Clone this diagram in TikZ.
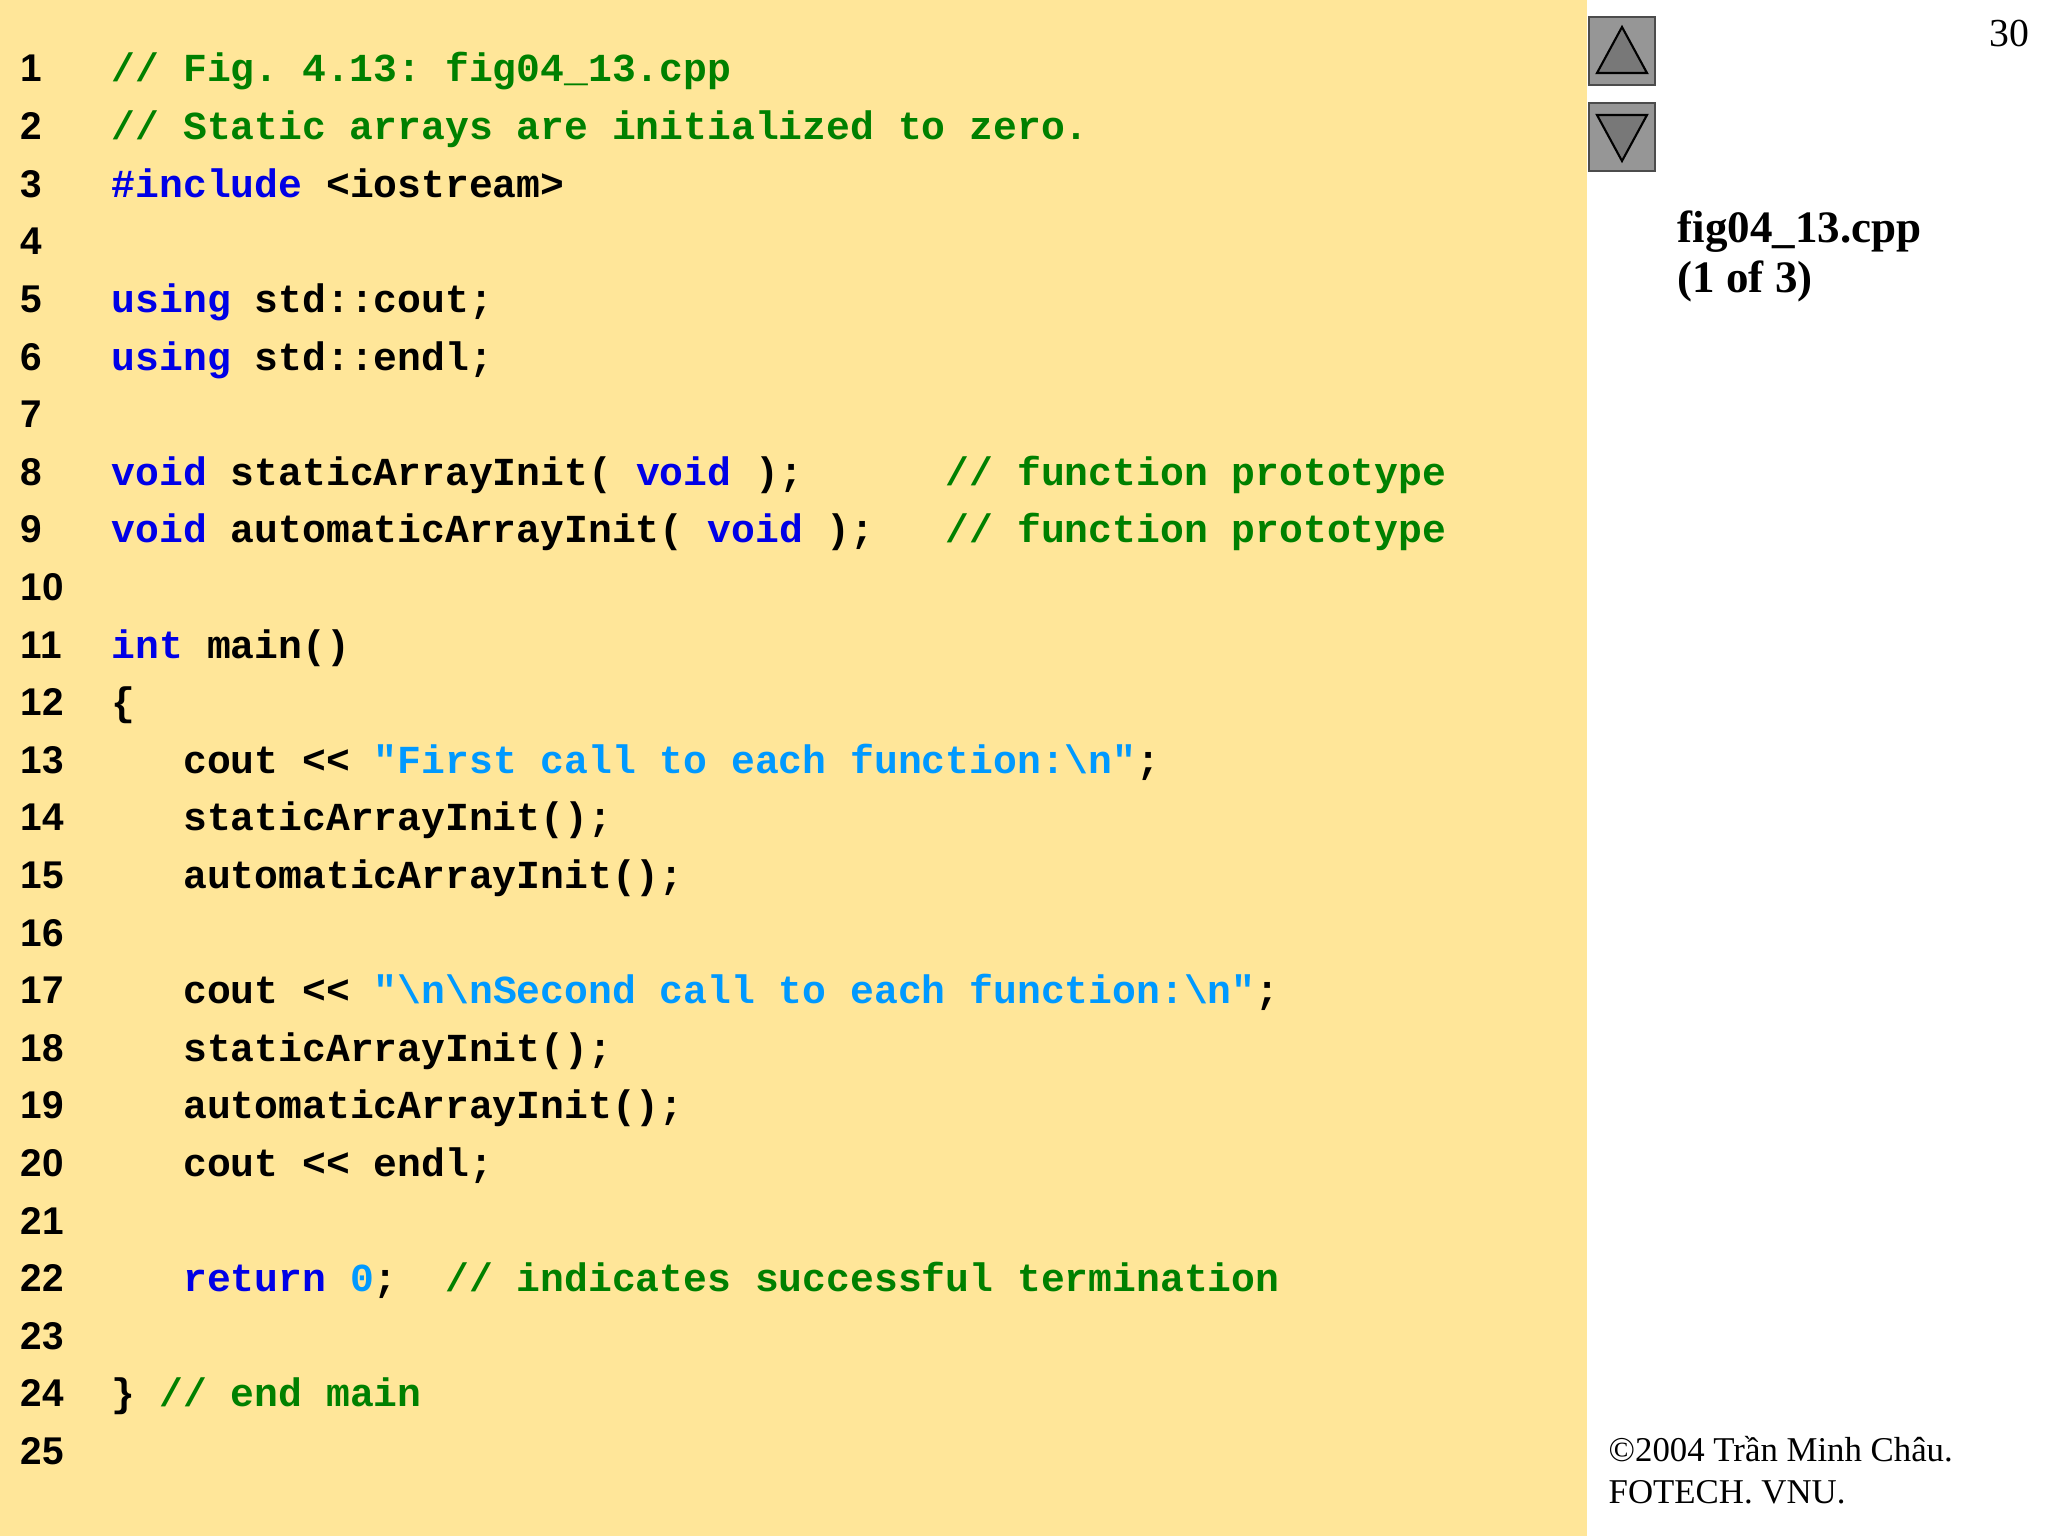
\documentclass[tikz,border=0pt]{standalone}
\usepackage{fontspec}
\setmainfont{Liberation Serif}
\setmonofont{Liberation Mono}
\setsansfont{Liberation Sans}
\definecolor{bgy}{RGB}{255,230,153}
\definecolor{cmt}{RGB}{0,128,0}
\definecolor{kw}{RGB}{0,0,230}
\definecolor{str}{RGB}{0,153,255}
\definecolor{btn}{RGB}{150,150,150}
\newcommand\K[1]{\textcolor{kw}{#1}}
\newcommand\C[1]{\textcolor{cmt}{#1}}
\newcommand\St[1]{\textcolor{str}{#1}}
\newcommand\ind{\phantom{xxx}}
\tikzset{code/.style={anchor=base west,inner sep=0,font=\fontsize{11.3pt}{13pt}\ttfamily\bfseries},
 lnum/.style={anchor=base west,inner sep=0,font=\fontsize{11pt}{13pt}\sffamily\bfseries},
 btnbox/.style={draw=black!70,line width=0.6pt,fill=btn,minimum width=0.66cm,minimum height=0.68cm,inner sep=0},
 side/.style={anchor=north west,inner sep=0,align=left}}
\begin{document}
\begin{tikzpicture}[x=1cm,y=-1cm]
\useasboundingbox (0,0) rectangle (20.48,15.36);
\fill[white] (0,0) rectangle (20.48,15.36);
\fill[bgy] (0,0) rectangle (15.87,15.36);
\foreach \i in {1,...,25}{\node[lnum] (n\i) at (0.2,{0.82+(\i-1)*0.576}) {\i};}
\def\ln#1#2{\node[code] (c#1) at (1.11,{0.82+(#1-1)*0.576}) {#2};}
\ln{1}{\C{// Fig. 4.13: fig04\_13.cpp}}
\ln{2}{\C{// Static arrays are initialized to zero.}}
\ln{3}{\K{\#include} <iostream>}
\ln{5}{\K{using} std::cout;}
\ln{6}{\K{using} std::endl;}
\ln{8}{\K{void} staticArrayInit( \K{void} );\phantom{xxxxxx}\C{// function prototype}}
\ln{9}{\K{void} automaticArrayInit( \K{void} );\phantom{xxx}\C{// function prototype}}
\ln{11}{\K{int} main()}
\ln{12}{\{}
\ln{13}{\ind cout << \St{"First call to each function:\textbackslash n"};}
\ln{14}{\ind staticArrayInit();}
\ln{15}{\ind automaticArrayInit();}
\ln{17}{\ind cout << \St{"\textbackslash n\textbackslash nSecond call to each function:\textbackslash n"};}
\ln{18}{\ind staticArrayInit();}
\ln{19}{\ind automaticArrayInit();}
\ln{20}{\ind cout << endl;}
\ln{22}{\ind\K{return} \St{0};\phantom{xx}\C{// indicates successful termination}}
\ln{24}{\} \C{// end main}}
\node[btnbox] (up) at (16.22,0.51) {};
\node[btnbox] (down) at (16.22,1.37) {};
\draw[black,line width=0.6pt,fill=btn!80!black] ([xshift=-0.25cm,yshift=-0.22cm]up.center) -- ([xshift=0.25cm,yshift=-0.22cm]up.center) -- ([yshift=0.24cm]up.center) -- cycle;
\draw[black,line width=0.6pt,fill=btn!80!black] ([xshift=-0.25cm,yshift=0.22cm]down.center) -- ([xshift=0.25cm,yshift=0.22cm]down.center) -- ([yshift=-0.24cm]down.center) -- cycle;
\node[side,font=\fontsize{12.8pt}{14.3pt}\selectfont\bfseries] (title) at (16.77,2.1) {fig04\_13.cpp\\(1 of 3)};
\node[anchor=base east,inner sep=0,font=\fontsize{11.3pt}{13pt}\selectfont] (pg) at (20.3,0.47) {30};
\node[side,font=\fontsize{9.9pt}{11.7pt}\selectfont] (copy) at (16.08,14.36) {©2004 Trần Minh Châu.\\FOTECH. VNU.};
\end{tikzpicture}
\end{document}
